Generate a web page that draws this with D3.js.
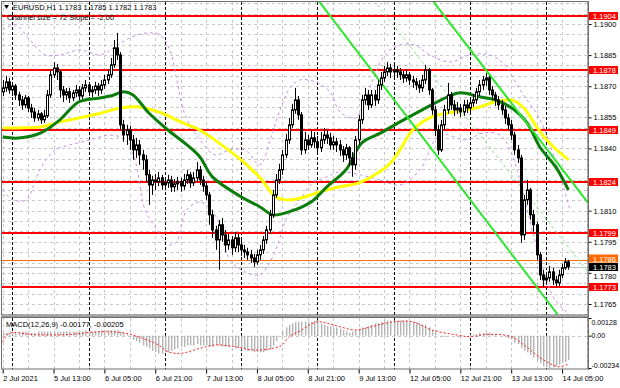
<!DOCTYPE html>
<html>
<head>
<meta charset="utf-8">
<script src="https://cdn.jsdelivr.net/npm/d3@7"></script>
<style>
  body { margin: 0; background: #fff; }
  svg { display: block; }
  text { font-family: "Liberation Sans", Arial, sans-serif; }
</style>
</head>
<body>
<div id="chart"></div>
<script>
// EURUSD H1, 2 Jul 21:00 .. 14 Jul 07:00 (one entry per hourly bar)
//
var firstOpen = 1.18673;
var closes = [
  1.18692,1.18721,1.18682,1.18701,1.18658,1.18634,1.18610,1.18644,1.18595,1.18576,
  1.18547,1.18567,1.18538,1.18557,1.18658,1.18755,1.18788,1.18769,1.18682,1.18658,
  1.18673,1.18644,1.18668,1.18682,1.18653,1.18692,1.18706,1.18673,1.18682,1.18701,
  1.18682,1.18706,1.18730,1.18755,1.18803,1.18885,1.18851,1.18514,1.18465,1.18489,
  1.18441,1.18393,1.18417,1.18369,1.18345,1.18273,1.18224,1.18248,1.18239,1.18258,
  1.18224,1.18234,1.18248,1.18215,1.18229,1.18239,1.18219,1.18248,1.18273,1.18234,
  1.18258,1.18297,1.18248,1.18219,1.18176,1.18080,1.18007,1.17959,1.18032,1.17983,
  1.17935,1.17959,1.17921,1.17969,1.17935,1.17911,1.17901,1.17887,1.17872,1.17853,
  1.17887,1.17911,1.17959,1.18007,1.18080,1.18176,1.18248,1.18297,1.18369,1.18441,
  1.18514,1.18586,1.18634,1.18562,1.18393,1.18441,1.18417,1.18451,1.18432,1.18403,
  1.18441,1.18465,1.18451,1.18417,1.18432,1.18417,1.18393,1.18369,1.18403,1.18354,
  1.18321,1.18441,1.18538,1.18634,1.18658,1.18610,1.18658,1.18634,1.18706,1.18740,
  1.18769,1.18788,1.18769,1.18779,1.18769,1.18755,1.18740,1.18755,1.18730,1.18721,
  1.18706,1.18692,1.18730,1.18779,1.18682,1.18586,1.18489,1.18393,1.18514,1.18586,
  1.18658,1.18610,1.18586,1.18595,1.18576,1.18610,1.18595,1.18620,1.18634,1.18673,
  1.18706,1.18730,1.18740,1.18682,1.18658,1.18634,1.18610,1.18586,1.18547,1.18514,
  1.18465,1.18393,1.18354,1.17983,1.18152,1.18200,1.18080,1.18032,1.17887,1.17790,
  1.17766,1.17776,1.17805,1.17766,1.17752,1.17790,1.17824,1.17853,1.17830
];
var highs = [
  1.18730,1.18750,1.18740,1.18716,1.18711,1.18673,1.18653,1.18658,1.18653,1.18615,
  1.18595,1.18586,1.18576,1.18586,1.18682,1.18779,1.18817,1.18808,1.18779,1.18701,
  1.18692,1.18692,1.18682,1.18706,1.18701,1.18711,1.18730,1.18721,1.18701,1.18721,
  1.18716,1.18730,1.18755,1.18779,1.18836,1.18923,1.18957,1.18865,1.18538,1.18514,
  1.18509,1.18465,1.18451,1.18441,1.18393,1.18369,1.18297,1.18268,1.18277,1.18287,
  1.18273,1.18258,1.18273,1.18268,1.18253,1.18263,1.18258,1.18277,1.18297,1.18287,
  1.18287,1.18335,1.18316,1.18268,1.18239,1.18191,1.18104,1.18027,1.18056,1.18065,
  1.18007,1.17988,1.17978,1.17998,1.17988,1.17959,1.17935,1.17921,1.17911,1.17892,
  1.17911,1.17935,1.17978,1.18027,1.18104,1.18200,1.18277,1.18326,1.18393,1.18470,
  1.18547,1.18615,1.18692,1.18653,1.18576,1.18480,1.18465,1.18489,1.18480,1.18460,
  1.18480,1.18499,1.18489,1.18475,1.18460,1.18451,1.18441,1.18412,1.18422,1.18412,
  1.18383,1.18460,1.18562,1.18658,1.18692,1.18682,1.18682,1.18682,1.18730,1.18769,
  1.18798,1.18817,1.18808,1.18803,1.18798,1.18788,1.18774,1.18779,1.18769,1.18750,
  1.18740,1.18730,1.18755,1.18803,1.18788,1.18692,1.18605,1.18514,1.18538,1.18610,
  1.18716,1.18673,1.18634,1.18624,1.18615,1.18634,1.18634,1.18644,1.18663,1.18692,
  1.18730,1.18750,1.18764,1.18750,1.18701,1.18673,1.18653,1.18634,1.18605,1.18567,
  1.18538,1.18480,1.18417,1.18369,1.18176,1.18248,1.18210,1.18104,1.18046,1.17901,
  1.17815,1.17805,1.17834,1.17824,1.17786,1.17815,1.17844,1.17872,1.17863
];
var lows = [
  1.18653,1.18673,1.18663,1.18653,1.18634,1.18605,1.18586,1.18595,1.18576,1.18547,
  1.18528,1.18533,1.18518,1.18523,1.18547,1.18644,1.18740,1.18730,1.18644,1.18624,
  1.18634,1.18620,1.18629,1.18648,1.18634,1.18639,1.18673,1.18653,1.18648,1.18663,
  1.18653,1.18663,1.18687,1.18711,1.18740,1.18788,1.18827,1.18489,1.18432,1.18417,
  1.18393,1.18345,1.18354,1.18321,1.18297,1.18239,1.18128,1.18176,1.18200,1.18219,
  1.18200,1.18200,1.18210,1.18191,1.18191,1.18200,1.18191,1.18200,1.18229,1.18210,
  1.18219,1.18239,1.18224,1.18191,1.18152,1.18032,1.17969,1.17911,1.17815,1.17950,
  1.17901,1.17911,1.17887,1.17901,1.17901,1.17882,1.17872,1.17863,1.17848,1.17829,
  1.17839,1.17863,1.17892,1.17940,1.17988,1.18065,1.18162,1.18229,1.18273,1.18354,
  1.18422,1.18499,1.18567,1.18538,1.18369,1.18374,1.18393,1.18403,1.18403,1.18383,
  1.18383,1.18422,1.18422,1.18393,1.18393,1.18383,1.18364,1.18335,1.18345,1.18316,
  1.18263,1.18297,1.18417,1.18518,1.18610,1.18586,1.18595,1.18605,1.18615,1.18682,
  1.18721,1.18750,1.18740,1.18745,1.18740,1.18730,1.18716,1.18721,1.18706,1.18692,
  1.18682,1.18668,1.18673,1.18711,1.18658,1.18562,1.18460,1.18369,1.18383,1.18489,
  1.18567,1.18586,1.18557,1.18567,1.18552,1.18557,1.18571,1.18576,1.18600,1.18615,
  1.18653,1.18682,1.18701,1.18658,1.18634,1.18605,1.18586,1.18562,1.18518,1.18489,
  1.18441,1.18369,1.18330,1.17945,1.17959,1.18128,1.18056,1.17998,1.17863,1.17766,
  1.17733,1.17742,1.17757,1.17742,1.17733,1.17737,1.17776,1.17815,1.17815
];

// Indicator lines, read as [bar, price] points
var maFast = [
  [0,1.18455],[5,1.18450],[12,1.18475],[18,1.18538],[24,1.18625],[31,1.18644],
  [35,1.18658],[38,1.18673],[41,1.18658],[46,1.18571],[52,1.18489],[58,1.18417],
  [62,1.18360],[66,1.18263],[75,1.18167],[81,1.18118],[85,1.18080],[90,1.18094],
  [97,1.18142],[102,1.18215],[108,1.18297],[113,1.18427],[119,1.18475],[125,1.18528],
  [132,1.18586],[140,1.18649],[144,1.18668],[150,1.18649],[155,1.18634],[161,1.18586],
  [165,1.18523],[169,1.18407],[174,1.18311],[178,1.18200]
];
var maSlow = [
  [0,1.18499],[5,1.18499],[12,1.18504],[18,1.18528],[24,1.18547],[31,1.18571],
  [37,1.18595],[43,1.18600],[50,1.18571],[56,1.18528],[62,1.18489],[68,1.18427],
  [75,1.18345],[81,1.18258],[86,1.18166],[90,1.18152],[94,1.18162],[100,1.18191],
  [106,1.18215],[112,1.18234],[118,1.18282],[122,1.18330],[125,1.18393],[129,1.18489],
  [135,1.18552],[140,1.18571],[146,1.18586],[150,1.18600],[155,1.18625],[160,1.18634],
  [164,1.18595],[168,1.18504],[172,1.18427],[178,1.18345]
];
var bandUpper = [
  [0,1.18971],[3.9,1.18995],[8.6,1.18923],[13.3,1.18851],[18,1.18851],[24.3,1.18875],
  [30.6,1.18851],[35.3,1.18889],[40,1.18933],[45.4,1.18957],[49.5,1.18947],[52.6,1.18875],
  [54.8,1.18730],[57.4,1.18562],[62.1,1.18441],[66.8,1.18369],[71.5,1.18393],[76.2,1.18393],
  [81,1.18321],[84.1,1.18441],[87.3,1.18586],[90.4,1.18692],[93.5,1.18730],[98.3,1.18721],
  [103,1.18673],[106.1,1.18576],[110.9,1.18547],[114,1.18634],[117.1,1.18755],[120.3,1.18851],
  [125,1.18899],[129.7,1.18899],[134.4,1.18851],[140.7,1.18817],[147,1.18851],[153.3,1.18851],
  [158,1.18803],[162.8,1.18682],[169.1,1.18538],[173.8,1.18345],[178.5,1.18104]
];
var bandLower = [
  [0,1.18200],[3.2,1.18152],[7.6,1.18152],[9.5,1.18215],[11.7,1.18297],[16.5,1.18393],
  [21.2,1.18417],[27.5,1.18441],[33.8,1.18465],[38.5,1.18441],[41.6,1.18345],[44.8,1.18104],
  [48.6,1.18007],[52.6,1.17935],[54.8,1.17950],[56.4,1.18041],[58,1.18104],[62.1,1.18142],
  [66.8,1.18080],[71.5,1.17863],[76.2,1.17805],[81,1.17790],[84.1,1.17853],[86.3,1.17926],
  [89.5,1.18070],[93.5,1.18152],[97.6,1.18234],[102,1.18263],[106.1,1.18287],[112.4,1.18273],
  [118.7,1.18248],[125,1.18224],[131.3,1.18297],[137.6,1.18465],[146,1.18441],[151.1,1.18475],
  [156.5,1.18465],[160.3,1.18369],[163.7,1.18186],[169.1,1.17863],[173.8,1.17670],[178.5,1.17598]
];

// Regression channel: lower, middle, upper lines as [bar, price] end points
var channelLower = [[99.2,1.19116],[174.7,1.17598]];
var channelMiddle = [[116.7,1.19116],[184.2,1.17804]];
var channelUpper = [[135.1,1.19116],[184.2,1.18138]];

// Horizontal levels
var redLevels = [1.1904, 1.1878, 1.1849, 1.1824, 1.1799, 1.1773];
var orangeLevel = 1.1786;
var bidPrice = 1.1783;

// MACD(12,26,9): main as histogram, signal as [bar, value]
var macdMain = [
  0.0002,0.0002,0.0002,0.0003,0.0002,0.0002,0.0003,0.0003,0.0002,0.0002,
  0.0002,0.0003,0.0003,0.0003,0.0003,0.0003,0.0003,0.0003,0.0003,0.0003,
  0.0003,0.0003,0.0003,0.0003,0.0003,0.0003,0.0004,0.0003,0.0003,0.0003,
  0.0003,0.0004,0.0004,0.0004,0.0004,0.0004,0.0004,0.0003,0.0002,0.0001,
  -0.0001,-0.0003,-0.0004,-0.0005,-0.0007,-0.0008,-0.0009,-0.0011,-0.0012,-0.0013,
  -0.0013,-0.0012,-0.0012,-0.0011,-0.0010,-0.0009,-0.0008,-0.0008,-0.0007,-0.0007,
  -0.0007,-0.0006,-0.0007,-0.0007,-0.0007,-0.0008,-0.0008,-0.0007,-0.0007,-0.0008,
  -0.0008,-0.0008,-0.0008,-0.0009,-0.0009,-0.0010,-0.0010,-0.0011,-0.0011,-0.0012,
  -0.0012,-0.0012,-0.0012,-0.0011,-0.0010,-0.0007,-0.0004,0.0000,0.0003,0.0006,
  0.0008,0.0009,0.0010,0.0010,0.0010,0.0010,0.0010,0.0010,0.0011,0.0011,
  0.0009,0.0008,0.0007,0.0007,0.0006,0.0006,0.0005,0.0004,0.0003,0.0002,
  0.0003,0.0004,0.0005,0.0006,0.0006,0.0007,0.0008,0.0009,0.0009,0.0010,
  0.0011,0.0011,0.0011,0.0011,0.0011,0.0011,0.0011,0.0011,0.0010,0.0010,
  0.0010,0.0009,0.0008,0.0008,0.0006,0.0004,0.0002,0.0000,-0.0001,-0.0001,
  0.0000,0.0000,0.0000,-0.0001,-0.0001,0.0000,0.0000,0.0001,0.0001,0.0001,
  0.0002,0.0002,0.0002,0.0002,0.0001,0.0001,0.0000,0.0000,-0.0001,-0.0002,
  -0.0003,-0.0005,-0.0006,-0.0009,-0.0011,-0.0012,-0.0014,-0.0016,-0.0018,-0.0020,
  -0.0022,-0.0023,-0.00234,-0.0023,-0.0022,-0.0021,-0.0020,-0.0019,-0.00177
];
var macdSignal = [
  [0,-0.00044],[2,0.00017],[10,0.00007],[20,0.00007],[31,0.00029],[39,0.00017],
  [44,-0.0002],[49,-0.00067],[52,-0.00116],[56,-0.00128],[62,-0.00092],[67,-0.00067],
  [73,-0.0008],[79,-0.00104],[85,-0.00092],[88,-0.00067],[90,-0.0001],[94,0.0004],
  [99,0.001],[104,0.00078],[111,0.00041],[116,0.00065],[123,0.001],[129,0.001],
  [135,0.00041],[143,0.00005],[147,-0.00007],[153,0.0001],[160,-0.00007],[164,-0.00067],
  [168,-0.0014],[172,-0.002],[175,-0.00225],[178,-0.00205]
];

// Axis labels
var priceTicks = [1.1900, 1.1885, 1.1870, 1.1855, 1.1840, 1.1810, 1.1795, 1.1780, 1.1765];
var macdTicks = [0.00128, 0.00, -0.00234];
var macdTickText = ["0.00128", "0.00", "-0.00234"];
var timeTickBars = [0, 16, 32, 48, 64, 80, 96, 112, 128, 144, 160, 176];
var timeTickText = ["2 Jul 2021", "5 Jul 13:00", "6 Jul 05:00", "6 Jul 21:00", "7 Jul 13:00",
  "8 Jul 05:00", "8 Jul 21:00", "9 Jul 13:00", "12 Jul 05:00", "12 Jul 21:00",
  "13 Jul 13:00", "14 Jul 05:00"];
var daySeparators = [3, 27, 51, 75, 99, 123, 147, 171];

// Layout
//
var W = 620, H = 388;
var plotL = 2, plotR = 588;
var mainT = 2, mainB = 315;
var macdT = 318, macdB = 369;

var svg = d3.select("#chart").append("svg")
  .attr("width", W).attr("height", H);

svg.append("rect").attr("width", W).attr("height", H).attr("fill", "#fff");

var x = d3.scaleLinear().domain([0, 178]).range([2.7, 568.4]);
var y = d3.scaleLinear().domain([1.1765, 1.1900]).range([304, 24]);
var ym = d3.scaleLinear().domain([-0.00234, 0.00128]).range([368, 318]);

var defs = svg.append("defs");
defs.append("clipPath").attr("id", "clipMain").append("rect")
  .attr("x", plotL).attr("y", mainT).attr("width", plotR - plotL).attr("height", mainB - mainT);
defs.append("clipPath").attr("id", "clipMacd").append("rect")
  .attr("x", plotL).attr("y", macdT).attr("width", plotR - plotL).attr("height", macdB - macdT);

var main = svg.append("g").attr("clip-path", "url(#clipMain)");
var macd = svg.append("g").attr("clip-path", "url(#clipMacd)");

// Grid
//
var gridBars = d3.range(0, 186, 8);
[[main, mainT, mainB], [macd, macdT, macdB]].forEach(function(p) {
  p[0].selectAll(null).data(gridBars).enter().append("line")
    .attr("x1", function(d) { return Math.round(x(d)) + 0.5; })
    .attr("x2", function(d) { return Math.round(x(d)) + 0.5; })
    .attr("y1", p[1]).attr("y2", p[2])
    .attr("stroke", "#c8c8c8").attr("stroke-dasharray", "3,3");
});
var gridPrices = d3.range(11760, 11915, 5).map(function(d) { return d / 10000; });
main.selectAll(null).data(gridPrices).enter().append("line")
  .attr("x1", plotL).attr("x2", plotR)
  .attr("y1", function(d) { return Math.round(y(d)) + 0.5; })
  .attr("y2", function(d) { return Math.round(y(d)) + 0.5; })
  .attr("stroke", "#c8c8c8").attr("stroke-dasharray", "3,3");
macd.append("line")
  .attr("x1", plotL).attr("x2", plotR)
  .attr("y1", Math.round(ym(0)) + 0.5).attr("y2", Math.round(ym(0)) + 0.5)
  .attr("stroke", "#c8c8c8").attr("stroke-dasharray", "3,3");

// day separators
[[main, mainT, mainB], [macd, macdT, macdB]].forEach(function(p) {
  p[0].selectAll(null).data(daySeparators).enter().append("line")
    .attr("x1", function(d) { return Math.round(x(d)) + 0.5; })
    .attr("x2", function(d) { return Math.round(x(d)) + 0.5; })
    .attr("y1", p[1]).attr("y2", p[2])
    .attr("stroke", "#000").attr("stroke-dasharray", "3,2");
});

// Horizontal levels
//
main.append("line")
  .attr("x1", plotL).attr("x2", plotR)
  .attr("y1", Math.round(y(bidPrice)) + 0.5).attr("y2", Math.round(y(bidPrice)) + 0.5)
  .attr("stroke", "#c0c0c0");
main.append("line")
  .attr("x1", plotL).attr("x2", plotR)
  .attr("y1", Math.round(y(orangeLevel)) + 0.5).attr("y2", Math.round(y(orangeLevel)) + 0.5)
  .attr("stroke", "#ff6a00");
main.selectAll(null).data(redLevels).enter().append("line")
  .attr("x1", plotL).attr("x2", plotR)
  .attr("y1", function(d) { return Math.round(y(d)); })
  .attr("y2", function(d) { return Math.round(y(d)); })
  .attr("stroke", "#ff0000").attr("stroke-width", 2);

// Bands and moving averages
//
var line = d3.line()
  .x(function(d) { return x(d[0]); })
  .y(function(d) { return y(d[1]); })
  .curve(d3.curveCatmullRom);

[bandUpper, bandLower].forEach(function(b) {
  main.append("path").attr("d", line(b))
    .attr("fill", "none").attr("stroke", "#c990e8")
    .attr("stroke-width", 1).attr("stroke-dasharray", "3,3");
});

main.append("path").attr("d", line(maSlow))
  .attr("fill", "none").attr("stroke", "#ffff00").attr("stroke-width", 3);
main.append("path").attr("d", line(maFast))
  .attr("fill", "none").attr("stroke", "#0a7d0a").attr("stroke-width", 3);

// Channel
var straight = d3.line()
  .x(function(d) { return x(d[0]); })
  .y(function(d) { return y(d[1]); });
[channelLower, channelUpper].forEach(function(c) {
  main.append("path").attr("d", straight(c))
    .attr("fill", "none").attr("stroke", "#2ee62e").attr("stroke-width", 2);
});
main.append("path").attr("d", straight(channelMiddle))
  .attr("fill", "none").attr("stroke", "#7fe27f").attr("stroke-dasharray", "3,3");

// Candles
//
var bars = closes.map(function(c, i) {
  return {
    i: i,
    open: i === 0 ? firstOpen : closes[i - 1],
    high: highs[i],
    low: lows[i],
    close: c
  };
});

var candle = main.selectAll("g.candle").data(bars).enter().append("g");
candle.append("line")
  .attr("x1", function(d) { return Math.round(x(d.i)) + 0.5; })
  .attr("x2", function(d) { return Math.round(x(d.i)) + 0.5; })
  .attr("y1", function(d) { return y(d.high); })
  .attr("y2", function(d) { return y(d.low); })
  .attr("stroke", "#000");
candle.append("rect")
  .attr("x", function(d) { return Math.round(x(d.i)) - 0.5; })
  .attr("y", function(d) { return y(Math.max(d.open, d.close)); })
  .attr("width", 2)
  .attr("height", function(d) { return Math.max(1, Math.abs(y(d.open) - y(d.close))); })
  .attr("fill", function(d) { return d.close >= d.open ? "#fff" : "#000"; })
  .attr("stroke", "#000").attr("stroke-width", 1);

// MACD
//
macd.selectAll(null).data(macdMain).enter().append("rect")
  .attr("x", function(d, i) { return Math.round(x(i)); })
  .attr("width", 1.4)
  .attr("y", function(d) { return Math.min(ym(d), ym(0)); })
  .attr("height", function(d) { return Math.abs(ym(d) - ym(0)); })
  .attr("fill", "#b4b4b4");
macd.append("path")
  .attr("d", d3.line()
    .x(function(d) { return x(d[0]); })
    .y(function(d) { return ym(d[1]); })
    .curve(d3.curveCatmullRom)(macdSignal))
  .attr("fill", "none").attr("stroke", "#ff2020")
  .attr("stroke-width", 1).attr("stroke-dasharray", "2,2");

// Frames
//
svg.append("rect").attr("x", 1.5).attr("y", 1.5)
  .attr("width", plotR - 1.5).attr("height", mainB - 1.5)
  .attr("fill", "none").attr("stroke", "#6e6e6e");
svg.append("rect").attr("x", 1.5).attr("y", 315.5)
  .attr("width", plotR - 1.5).attr("height", 2)
  .attr("fill", "#9a9a9a");
svg.append("rect").attr("x", 1.5).attr("y", macdT - 0.5)
  .attr("width", plotR - 1.5).attr("height", macdB - macdT + 0.5)
  .attr("fill", "none").attr("stroke", "#6e6e6e");

// Price axis
//
var yAxis = d3.axisRight(y).tickValues(priceTicks).tickSize(3)
  .tickFormat(d3.format(".4f"));
var gy = svg.append("g").attr("transform", "translate(" + (plotR + 0.5) + ",0)").call(yAxis);
gy.select(".domain").remove();
gy.selectAll("text").attr("font-size", 7.5).attr("font-family", "Liberation Sans").attr("fill", "#000").attr("x", 5);
gy.selectAll("line").attr("stroke", "#000");
// the 1.1780 label sits just under the bid box
gy.selectAll(".tick").filter(function(d) { return d === 1.1780; }).select("text").attr("dy", "0.72em");

var macdAxis = d3.axisRight(ym).tickValues(macdTicks).tickSize(3)
  .tickFormat(function(d, i) { return macdTickText[i]; });
var gm = svg.append("g").attr("transform", "translate(" + (plotR + 0.5) + ",0)").call(macdAxis);
gm.select(".domain").remove();
gm.selectAll("text").attr("font-size", 7).attr("font-family", "Liberation Sans").attr("fill", "#000").attr("x", 3);
gm.selectAll("line").attr("stroke", "#000");
gm.selectAll(".tick").filter(function(d, i) { return i === 0; }).select("text").attr("dy", "0.9em");
gm.selectAll(".tick").filter(function(d, i) { return i === 2; }).select("text").attr("dy", "-0.1em");

// price boxes (the orange one is lifted a little so the bid box does not hide its text)
var boxes = redLevels.map(function(p) { return { p: p, fill: "#ff0000", text: "#fff", lift: 0 }; });
boxes.push({ p: orangeLevel, fill: "#ff6a00", text: "#fff", lift: 1.5 });
boxes.push({ p: bidPrice, fill: "#000", text: "#fff", lift: 0 });
var box = svg.selectAll("g.box").data(boxes).enter().append("g");
box.append("rect")
  .attr("x", plotR + 1).attr("width", 29)
  .attr("y", function(d) { return Math.round(y(d.p)) - 4 - d.lift; })
  .attr("height", 8)
  .attr("fill", function(d) { return d.fill; });
box.append("text")
  .attr("x", plotR + 5)
  .attr("y", function(d) { return Math.round(y(d.p)) + 3 - d.lift; })
  .attr("font-size", 7.5).attr("fill", function(d) { return d.text; })
  .text(function(d) { return d3.format(".4f")(d.p); });

svg.append("line").attr("x1", plotR + 0.5).attr("x2", plotR + 0.5)
  .attr("y1", 1).attr("y2", macdB + 1).attr("stroke", "#6e6e6e");

// Time axis
//
var xAxis = d3.axisBottom(x).tickValues(timeTickBars).tickSize(4)
  .tickFormat(function(d, i) { return timeTickText[i]; });
var gx = svg.append("g").attr("transform", "translate(0," + (macdB + 0.5) + ")").call(xAxis);
gx.select(".domain").remove();
gx.selectAll("line").attr("stroke", "#000");
gx.selectAll("text").attr("font-size", 7.5).attr("font-family", "Liberation Sans")
  .attr("fill", "#000").attr("text-anchor", "start").attr("x", 0).attr("y", 6).attr("dy", "0.71em");

// Header texts
//
svg.append("path").attr("d", "M4,5 L9,5 L6.5,9 Z").attr("fill", "#000");
svg.append("text").attr("x", 13).attr("y", 10).attr("font-size", 7.5)
  .text("EURUSD,H1  1.1783 1.1785 1.1782 1.1783");
svg.append("text").attr("x", 7).attr("y", 20).attr("font-size", 7.5)
  .text("Channel size = 72 Slope = -2.00");
svg.append("text").attr("x", 6).attr("y", 327).attr("font-size", 7.5)
  .text("MACD(12,26,9) -0.00177, -0.00205");
</script>
</body>
</html>
